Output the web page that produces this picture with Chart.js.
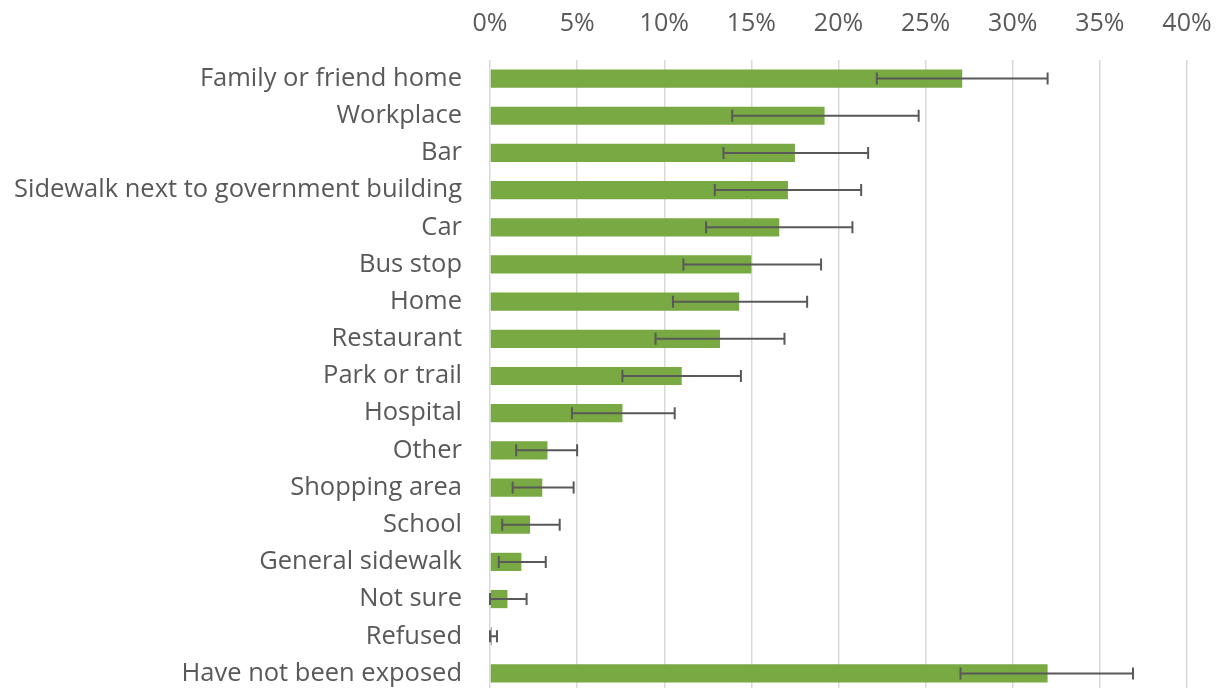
<!DOCTYPE html>
<html>
<head>
<meta charset="utf-8">
<script src="https://cdn.jsdelivr.net/npm/chart.js@4/dist/chart.umd.min.js"></script>
<style>
  html, body { margin: 0; padding: 0; background: #fff; overflow: hidden; }
  #wrap { width: 1217px; height: 692px; }
</style>
</head>
<body>
<div id="wrap"><canvas id="c" width="1217" height="692"></canvas></div>
<script>
// Places where respondents reported exposure (percent of respondents)
const categories = [
  'Family or friend home', 'Workplace', 'Bar', 'Sidewalk next to government building',
  'Car', 'Bus stop', 'Home', 'Restaurant', 'Park or trail', 'Hospital', 'Other',
  'Shopping area', 'School', 'General sidewalk', 'Not sure', 'Refused', 'Have not been exposed'
];
const percentValues = [27.1, 19.2, 17.5, 17.1, 16.6, 15.0, 14.3, 13.2, 11.0, 7.6, 3.3, 3.0, 2.3, 1.8, 1.0, 0.1, 32.0];
// 95% confidence interval bounds
const lowerBounds = [22.2, 13.9, 13.4, 12.9, 12.4, 11.1, 10.5, 9.5, 7.6, 4.7, 1.5, 1.3, 0.7, 0.5, 0.0, 0.0, 27.0];
const upperBounds = [32.0, 24.6, 21.7, 21.3, 20.8, 19.0, 18.2, 16.9, 14.4, 10.6, 5.0, 4.8, 4.0, 3.2, 2.1, 0.4, 36.9];
const tickValues = [0, 5, 10, 15, 20, 25, 30, 35, 40];

const FONT = "'Open Sans', 'DejaVu Sans', sans-serif";
const TEXT = '#595959';

// Draws confidence-interval whiskers through the chart's own scales
const errorBars = {
  id: 'errorBars',
  afterDatasetsDraw(chart) {
    const { ctx, scales: { x, y } } = chart;
    ctx.save();
    ctx.strokeStyle = '#595959';
    ctx.lineWidth = 2;
    const cap = 6;
    categories.forEach((cat, i) => {
      const yc = y.getPixelForValue(i);
      const x0 = x.getPixelForValue(lowerBounds[i]);
      const x1 = x.getPixelForValue(upperBounds[i]);
      ctx.beginPath();
      ctx.moveTo(x0, yc); ctx.lineTo(x1, yc);
      ctx.moveTo(x0, yc - cap); ctx.lineTo(x0, yc + cap);
      ctx.moveTo(x1, yc - cap); ctx.lineTo(x1, yc + cap);
      ctx.stroke();
    });
    ctx.restore();
  }
};

new Chart(document.getElementById('c'), {
  type: 'bar',
  data: {
    labels: categories,
    datasets: [{
      data: percentValues,
      backgroundColor: '#79a943',
      borderWidth: 0,
      categoryPercentage: 1,
      barPercentage: 0.49
    }]
  },
  options: {
    indexAxis: 'y',
    responsive: false,
    animation: false,
    layout: { padding: { top: 0, right: 30, bottom: 0, left: 0 } },
    plugins: { legend: { display: false }, tooltip: { enabled: false } },
    scales: {
      x: {
        position: 'top',
        min: 0, max: 40,
        afterBuildTicks(scale) { scale.ticks = tickValues.map(v => ({ value: v })); },
        afterFit(scale) {
          scale.height = 60;
          scale.paddingLeft = 0;
          scale.paddingRight = 0;
        },
        grid: { color: '#d9d9d9', lineWidth: 1.5, drawTicks: false },
        border: { display: false },
        ticks: {
          padding: 21,
          color: TEXT,
          font: { family: FONT, size: 25 },
          callback: v => v + '%'
        }
      },
      y: {
        afterFit(scale) {
          scale.width = 490;
          scale.paddingTop = 0;
          scale.paddingBottom = 0;
        },
        grid: { display: false, drawTicks: false },
        border: { display: false },
        ticks: {
          padding: 28,
          color: TEXT,
          font: { family: FONT, size: 25.5 },
          autoSkip: false
        }
      }
    }
  },
  plugins: [errorBars]
});
</script>
</body>
</html>
